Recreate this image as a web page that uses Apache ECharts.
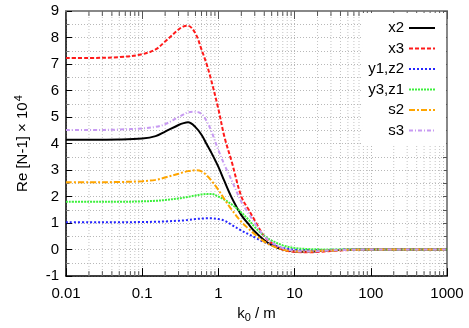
<!DOCTYPE html>
<html>
<head>
<meta charset="utf-8">
<script src="https://cdn.jsdelivr.net/npm/echarts@6/dist/echarts.min.js"></script>
<style>
  html, body { margin: 0; padding: 0; background: #fff; }
  #chart { width: 469px; height: 328px; }
</style>
</head>
<body>
<div id="chart"></div>
<script>
// k0 / m sample points (log x axis)
var kValues = [0.01, 0.02, 0.05, 0.1, 0.15, 0.2, 0.3, 0.35, 0.4, 0.5, 0.6, 0.7, 0.8, 1, 1.2, 1.5, 2, 2.5, 3, 4, 5, 7, 10, 15, 20, 30, 50, 100, 200, 500, 1000]

// Re [N-1] x 10^4 per direction
var x2 = [4.14, 4.14, 4.15, 4.19, 4.28, 4.45, 4.7, 4.77, 4.8, 4.62, 4.33, 3.98, 3.68, 3.12, 2.58, 1.95, 1.3, 0.95, 0.68, 0.35, 0.17, 0.0, -0.07, -0.08, -0.06, -0.03, -0.01, 0, 0, 0, 0]
var x3 = [7.23, 7.23, 7.26, 7.37, 7.55, 7.85, 8.3, 8.42, 8.44, 8.15, 7.55, 7.0, 6.42, 5.3, 4.25, 3.3, 2.0, 1.5, 1.1, 0.5, 0.25, 0.0, -0.08, -0.1, -0.09, -0.05, -0.02, 0, 0, 0, 0]
var y1z2 = [1.03, 1.03, 1.03, 1.04, 1.05, 1.06, 1.09, 1.1, 1.12, 1.15, 1.17, 1.18, 1.18, 1.15, 1.09, 0.93, 0.72, 0.58, 0.46, 0.28, 0.18, 0.06, 0.0, -0.02, -0.02, -0.01, 0, 0, 0, 0, 0]
var y3z1 = [1.8, 1.8, 1.8, 1.82, 1.84, 1.87, 1.93, 1.96, 1.99, 2.04, 2.08, 2.1, 2.1, 2.0, 1.88, 1.7, 1.4, 1.12, 0.85, 0.52, 0.34, 0.16, 0.06, 0.02, 0.01, 0, 0, 0, 0, 0, 0]
var s2 = [2.54, 2.54, 2.55, 2.58, 2.63, 2.72, 2.86, 2.92, 2.96, 2.99, 2.95, 2.8, 2.62, 2.25, 1.9, 1.5, 1.05, 0.78, 0.58, 0.3, 0.15, 0.0, -0.06, -0.07, -0.05, -0.03, -0.01, 0, 0, 0, 0]
var s3 = [4.51, 4.51, 4.53, 4.57, 4.63, 4.73, 5.0, 5.1, 5.18, 5.2, 5.12, 4.85, 4.5, 3.75, 3.2, 2.6, 1.8, 1.35, 1.0, 0.5, 0.28, 0.05, -0.05, -0.07, -0.06, -0.03, -0.01, 0, 0, 0, 0]

var seriesNames = ['x2', 'x3', 'y1,z2', 'y3,z1', 's2', 's3']
var xTickLabels = ['0.01', '0.1', '1', '10', '100', '1000']
// log minor ticks: 2..9 times each decade
var decades = [0.01, 0.1, 1, 10, 100]
var minorSteps = [2, 3, 4, 5, 6, 7, 8, 9]

var yMin = -1
var yMax = 9

function pairs (ys) {
  return kValues.map(function (k, i) { return [k, ys[i]] })
}

var minorK = []
decades.forEach(function (d) {
  minorSteps.forEach(function (m) { minorK.push([+(d * m).toPrecision(3), 0]) })
})

var styles = [
  { color: '#000000', type: 'solid' },
  { color: '#ff1a1a', type: [4, 2] },
  { color: '#2525ff', type: [2, 2] },
  { color: '#3cf03c', type: [2, 1] },
  { color: '#ffa500', type: [6, 2, 2, 2] },
  { color: '#c79af2', type: [4, 2, 1, 2] }
]
var values = [x2, x3, y1z2, y3z1, s2, s3]

var font = 'Liberation Sans, Arial, sans-serif'
var myChart = echarts.init(document.getElementById('chart'))

var series = seriesNames.map(function (name, i) {
  return {
    name: name,
    type: 'line',
    data: pairs(values[i]),
    showSymbol: false,
    symbol: 'none',
    smooth: 0.35,
    z: 3,
    color: styles[i].color,
    lineStyle: { color: styles[i].color, width: 2, type: styles[i].type }
  }
})

// log minor grid lines and ticks (bottom and top)
series.push({
  type: 'custom',
  silent: true,
  z: 1,
  clip: false,
  data: minorK,
  encode: { x: 0, y: 1 },
  renderItem: function (params, api) {
    var k = api.value(0)
    var top = api.coord([k, yMax])
    var bot = api.coord([k, yMin])
    return {
      type: 'group',
      children: [
        { type: 'line', shape: { x1: top[0], y1: top[1], x2: bot[0], y2: bot[1] }, style: { stroke: '#c4c4c4', lineWidth: 1, lineDash: [1, 2] } },
        { type: 'line', shape: { x1: bot[0], y1: bot[1], x2: bot[0], y2: bot[1] - 5 }, style: { stroke: '#555', lineWidth: 1 } },
        { type: 'line', shape: { x1: top[0], y1: top[1], x2: top[0], y2: top[1] + 5 }, style: { stroke: '#555', lineWidth: 1 } }
      ]
    }
  }
})

myChart.setOption({
  animation: false,
  textStyle: { fontFamily: font },
  grid: { left: 66, right: 22, top: 11, bottom: 46 },
  legend: {
    data: seriesNames,
    orient: 'vertical',
    right: 23,
    top: 13,
    align: 'right',
    itemWidth: 26,
    itemHeight: 10,
    itemGap: 4.5,
    padding: [7, 10, 6, 6],
    backgroundColor: '#fff',
    itemStyle: { opacity: 0 },
    textStyle: { fontSize: 15, color: '#000', fontFamily: font, lineHeight: 16 }
  },
  xAxis: [
    {
      type: 'log',
      logBase: 10,
      min: 0.01,
      max: 1000,
      position: 'bottom',
      name: 'k{sub|0} / m',
      nameLocation: 'middle',
      nameGap: 19,
      nameTextStyle: {
        fontSize: 15,
        color: '#000',
        fontFamily: font,
        rich: { sub: { fontSize: 11, verticalAlign: 'bottom', padding: [8, 0, 0, 0] } }
      },
      axisLine: { show: true, onZero: false, lineStyle: { color: '#000', width: 1.5 } },
      axisTick: { show: true, inside: true, length: 8, lineStyle: { color: '#000' } },
      axisLabel: {
        fontSize: 15,
        color: '#000',
        margin: 10,
        formatter: function (v) {
          return xTickLabels[Math.round(Math.log10(v)) + 2]
        }
      },
      splitLine: { show: true, lineStyle: { color: '#b8b8b8', type: [1, 2] } }
    },
    {
      type: 'log',
      logBase: 10,
      min: 0.01,
      max: 1000,
      position: 'top',
      axisLine: { show: true, onZero: false, lineStyle: { color: '#888', width: 2 } },
      axisTick: { show: true, inside: true, length: 8, lineStyle: { color: '#555' } },
      axisLabel: { show: false },
      splitLine: { show: false }
    }
  ],
  yAxis: [
    {
      type: 'value',
      min: yMin,
      max: yMax,
      interval: 1,
      position: 'left',
      name: 'Re [N-1] × 10{sup|4}',
      nameLocation: 'middle',
      nameGap: 34,
      nameTextStyle: {
        fontSize: 15,
        color: '#000',
        fontFamily: font,
        rich: { sup: { fontSize: 11, verticalAlign: 'top', padding: [0, 0, 8, 1] } }
      },
      axisLine: { show: true, onZero: false, lineStyle: { color: '#000', width: 1.5 } },
      axisTick: { show: true, inside: true, length: 6, lineStyle: { color: '#000' } },
      minorTick: { show: true, splitNumber: 2, length: 3, lineStyle: { color: '#777' } },
      axisLabel: { fontSize: 15, color: '#000', margin: 7 },
      splitLine: { show: true, lineStyle: { color: '#b8b8b8', type: [1, 2] } },
      minorSplitLine: { show: true, lineStyle: { color: '#b8b8b8', type: [1, 2] } }
    },
    {
      type: 'value',
      min: yMin,
      max: yMax,
      interval: 0.5,
      position: 'right',
      axisLine: { show: true, onZero: false, lineStyle: { color: '#888', width: 2 } },
      axisTick: { show: true, inside: true, length: 4, lineStyle: { color: '#555' } },
      axisLabel: { show: false },
      splitLine: { show: false }
    }
  ],
  series: series
})
</script>
</body>
</html>
